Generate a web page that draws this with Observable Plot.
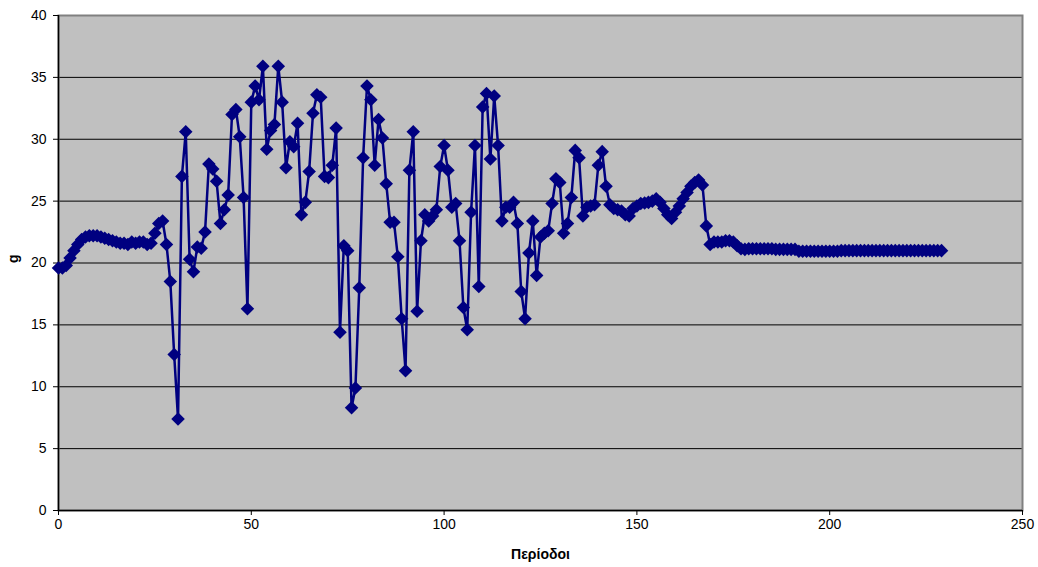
<!DOCTYPE html>
<html>
<head>
<meta charset="utf-8">
<script src="https://cdn.jsdelivr.net/npm/d3@7"></script>
<script src="https://cdn.jsdelivr.net/npm/@observablehq/plot@0.6"></script>
<style>
  html, body { margin: 0; padding: 0; background: #ffffff; }
  #chart svg { display: block; }
</style>
</head>
<body>
<div id="chart"></div>
<script>
// g per period (period = position in the list, starting at 0)
const gValues = [
  19.6, 19.6, 19.8, 20.4, 21.0, 21.5, 21.9, 22.1, 22.2, 22.2,
  22.2, 22.1, 22.0, 21.9, 21.8, 21.7, 21.6, 21.6, 21.5, 21.7,
  21.6, 21.7, 21.7, 21.5, 21.6, 22.4, 23.2, 23.4, 21.5, 18.5,
  12.6, 7.4, 27.0, 30.6, 20.3, 19.3, 21.3, 21.2, 22.5, 28.0,
  27.6, 26.6, 23.2, 24.3, 25.5, 32.0, 32.4, 30.2, 25.3, 16.3,
  33.0, 34.3, 33.2, 35.9, 29.2, 30.7, 31.2, 35.9, 33.0, 27.7,
  29.8, 29.4, 31.3, 23.9, 24.9, 27.4, 32.1, 33.6, 33.4, 27.0,
  26.9, 27.9, 30.9, 14.4, 21.4, 21.0, 8.3, 9.9, 18.0, 28.5,
  34.3, 33.2, 27.9, 31.6, 30.1, 26.4, 23.3, 23.3, 20.5, 15.5,
  11.3, 27.5, 30.6, 16.1, 21.8, 23.9, 23.4, 23.8, 24.3, 27.8,
  29.5, 27.5, 24.5, 24.8, 21.8, 16.4, 14.6, 24.1, 29.5, 18.1,
  32.6, 33.7, 28.4, 33.5, 29.5, 23.4, 24.5, 24.5, 24.9, 23.2,
  17.7, 15.5, 20.8, 23.4, 19.0, 22.1, 22.4, 22.6, 24.8, 26.8,
  26.5, 22.4, 23.2, 25.3, 29.1, 28.5, 23.8, 24.5, 24.6, 24.7,
  27.9, 29.0, 26.2, 24.7, 24.4, 24.3, 24.2, 23.9, 23.8, 24.4,
  24.6, 24.8, 24.85, 24.9, 25.0, 25.2, 24.9, 24.4, 23.9, 23.6,
  24.1, 24.6, 25.2, 25.7, 26.2, 26.5, 26.7, 26.3, 23.0, 21.5,
  21.7, 21.7, 21.7, 21.8, 21.8, 21.7, 21.4, 21.15, 21.1, 21.15,
  21.15, 21.15, 21.15, 21.15, 21.15, 21.15, 21.1, 21.1, 21.1, 21.1,
  21.1, 21.1, 20.95, 20.95, 20.95, 20.95, 20.95, 20.95, 20.95, 20.95,
  20.95, 20.95, 20.95, 21.0, 21.0, 21.0, 21.0, 21.0, 21.0, 21.0,
  21.0, 21.0, 21.0, 21.0, 21.0, 21.0, 21.0, 21.0, 21.0, 21.0,
  21.0, 21.0, 21.0, 21.0, 21.0, 21.0, 21.0, 21.0, 21.0, 21.0
];

const xTicks = [0, 50, 100, 150, 200, 250];
const yTicks = [0, 5, 10, 15, 20, 25, 30, 35, 40];
const gridLevels = [5, 10, 15, 20, 25, 30, 35];
const xLabel = "Περίοδοι";
const yLabel = "g";

const series = gValues.map((g, period) => ({period, g}));

const navy = "#000080";

const chart = Plot.plot({
  width: 1038,
  height: 567,
  marginLeft: 58,
  marginRight: 16,
  marginTop: 15,
  marginBottom: 57,
  style: {
    fontFamily: "'Liberation Sans', Arial, sans-serif",
    fontSize: "14px",
    background: "#ffffff",
    color: "#000000",
    overflow: "visible"
  },
  x: {domain: [0, 250]},
  y: {domain: [0, 40]},
  marks: [
    Plot.frame({fill: "#c0c0c0", stroke: null}),
    Plot.gridY(gridLevels, {stroke: "#000000", strokeOpacity: 1, strokeWidth: 1}),
    Plot.frame({stroke: "#808080", strokeWidth: 2}),
    Plot.ruleX([0], {stroke: "#000000", strokeWidth: 1.5}),
    Plot.ruleY([0], {stroke: "#000000", strokeWidth: 1.5}),
    Plot.axisX({ticks: xTicks, tickSize: 5, tickPadding: 4, label: null, tickFormat: d => String(d)}),
    Plot.axisY({ticks: yTicks, tickSize: 5, tickPadding: 7, label: null, tickFormat: d => String(d)}),
    Plot.line(series, {x: "period", y: "g", stroke: navy, strokeWidth: 2.5}),
    Plot.dot(series, {x: "period", y: "g", symbol: "diamond2", r: 6.1, fill: navy, stroke: null}),
    Plot.text([xLabel], {frameAnchor: "bottom", lineAnchor: "middle", dy: 44, fontWeight: "bold", fontSize: 14}),
    Plot.text([yLabel], {frameAnchor: "left", lineAnchor: "middle", dx: -45, rotate: -90, fontWeight: "bold", fontSize: 14})
  ]
});

document.getElementById("chart").append(chart);
</script>
</body>
</html>
